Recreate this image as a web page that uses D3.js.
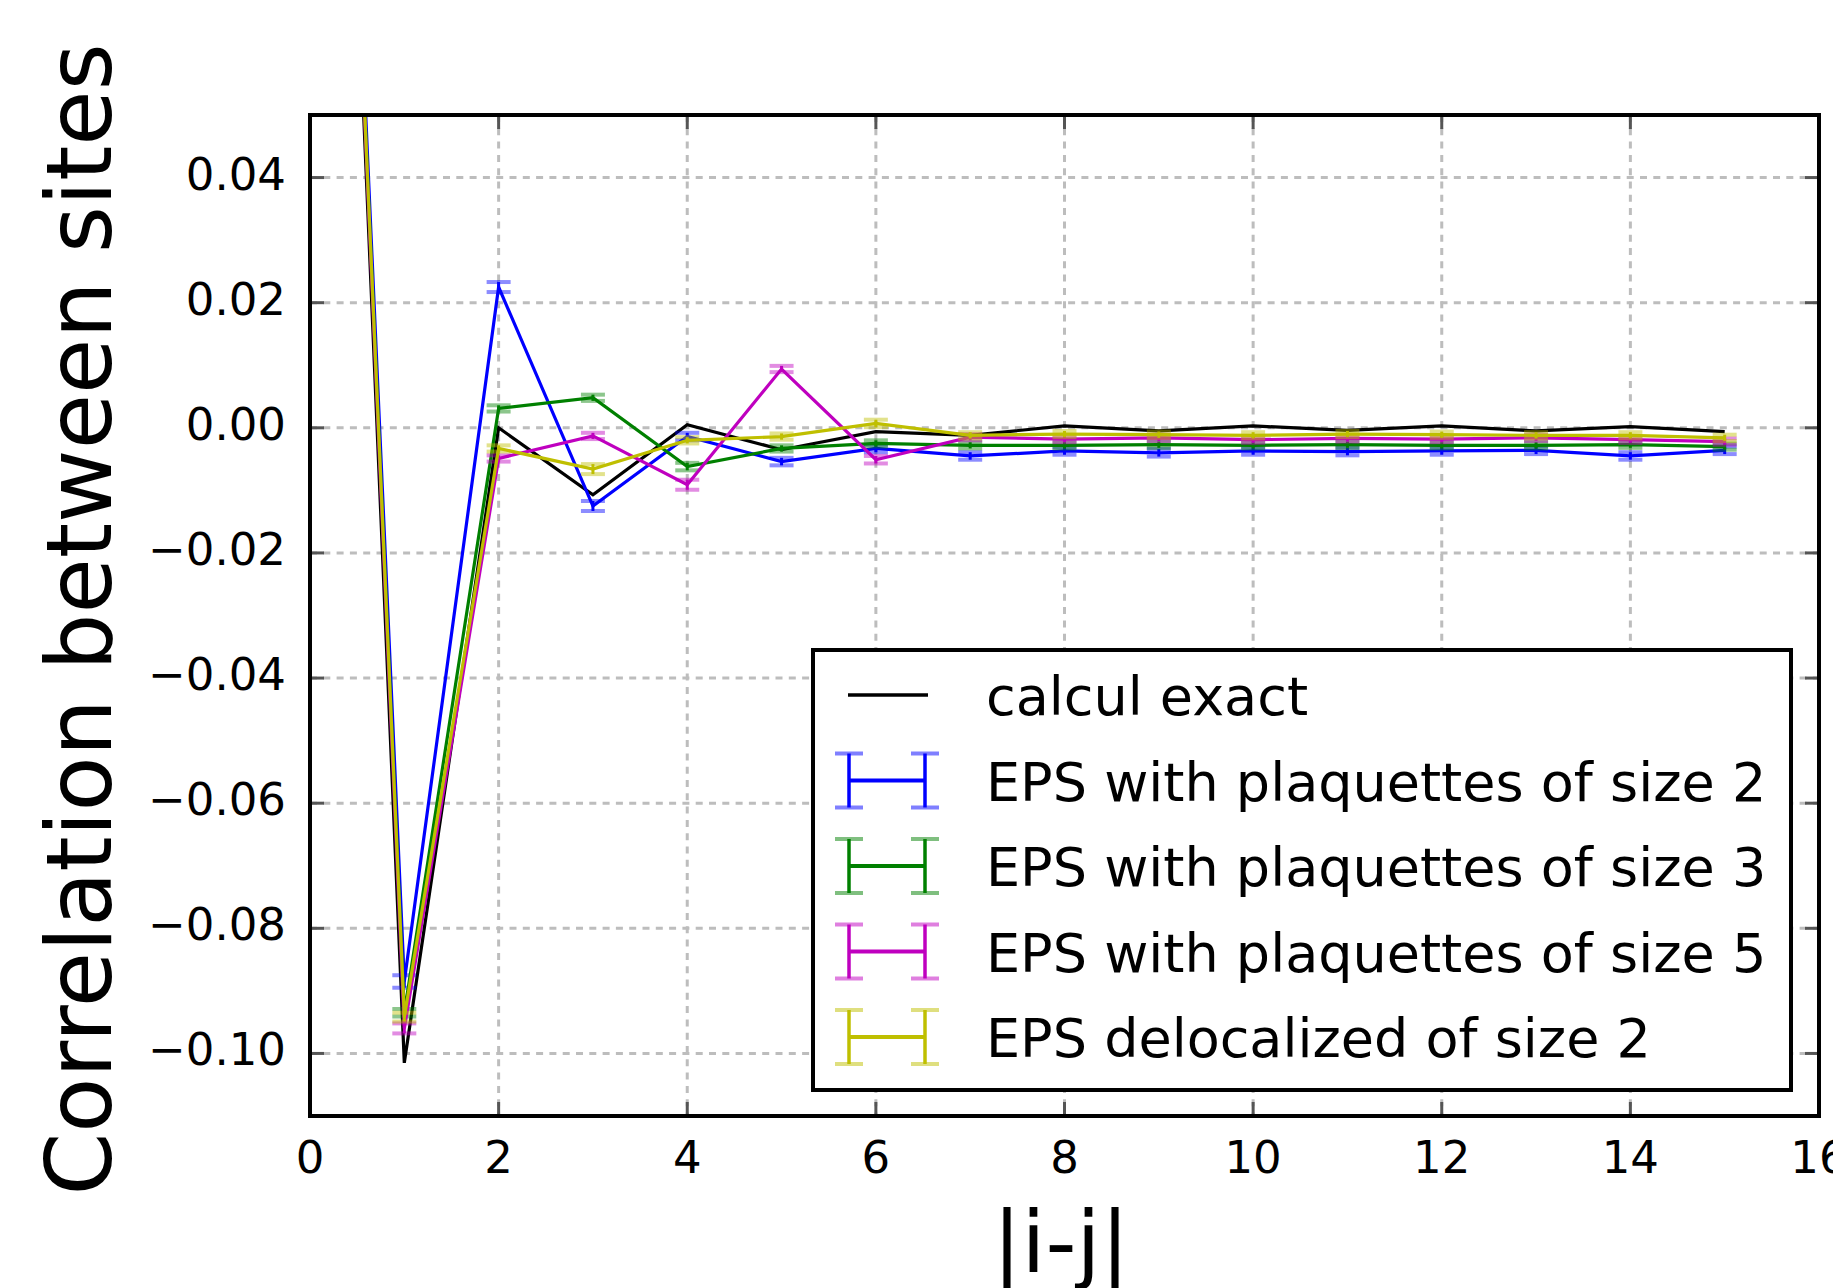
<!DOCTYPE html>
<html>
<head>
<meta charset="utf-8">
<script src="https://cdn.jsdelivr.net/npm/d3@7/dist/d3.min.js"></script>
<style>
  body { margin: 0; background: #fff; }
  text { font-family: "DejaVu Sans", sans-serif; fill: #000; }
</style>
</head>
<body>
<div id="chart"></div>
<script>
// Data
const distances = [0, 1, 2, 3, 4, 5, 6, 7, 8, 9, 10, 11, 12, 13, 14, 15];

const exactValues = [0.25, -0.1015, 0.0000, -0.0107, 0.0005, -0.0035, -0.0006, -0.0012, 0.0003, -0.0005, 0.0003, -0.0004, 0.0003, -0.0005, 0.0002, -0.0006];

const eps2Values = [0.25, -0.0885, 0.0225, -0.0125, -0.0014, -0.0054, -0.0033, -0.0045, -0.0037, -0.0040, -0.0037, -0.0038, -0.0037, -0.0036, -0.0045, -0.0036];
const eps2Errors = [0.0007, 0.0010, 0.0008, 0.0008, 0.0006, 0.0006, 0.0006, 0.0006, 0.0006, 0.0006, 0.0006, 0.0006, 0.0006, 0.0006, 0.0006, 0.0006];

const eps3Values = [0.25, -0.0935, 0.0031, 0.0048, -0.0062, -0.0033, -0.0025, -0.0028, -0.0028, -0.0027, -0.0028, -0.0027, -0.0028, -0.0028, -0.0027, -0.0030];
const eps3Errors = [0.0006, 0.0006, 0.0005, 0.0005, 0.0006, 0.0005, 0.0005, 0.0005, 0.0005, 0.0005, 0.0005, 0.0005, 0.0005, 0.0005, 0.0005, 0.0005];

const eps5Values = [0.25, -0.0960, -0.0049, -0.0013, -0.0091, 0.0094, -0.0051, -0.0015, -0.0018, -0.0016, -0.0019, -0.0017, -0.0018, -0.0016, -0.0019, -0.0022];
const eps5Errors = [0.0006, 0.0008, 0.0005, 0.0005, 0.0008, 0.0005, 0.0006, 0.0005, 0.0005, 0.0005, 0.0005, 0.0005, 0.0005, 0.0005, 0.0005, 0.0005];

const delocValues = [0.25, -0.0942, -0.0033, -0.0066, -0.0020, -0.0014, 0.0007, -0.0012, -0.0010, -0.0011, -0.0012, -0.0010, -0.0011, -0.0012, -0.0012, -0.0016];
const delocErrors = [0.0006, 0.0007, 0.0005, 0.0008, 0.0005, 0.0005, 0.0006, 0.0005, 0.0005, 0.0005, 0.0005, 0.0005, 0.0005, 0.0005, 0.0005, 0.0005];

const xTicks = [0, 2, 4, 6, 8, 10, 12, 14, 16];
const yTicks = [-0.10, -0.08, -0.06, -0.04, -0.02, 0.00, 0.02, 0.04];

const seriesNames = ["calcul exact", "EPS with plaquettes of size 2", "EPS with plaquettes of size 3",
                     "EPS with plaquettes of size 5", "EPS delocalized of size 2"];
const seriesColors = ["#000000", "#0000ff", "#008000", "#bf00bf", "#bfbf00"];

// Layout
const width = 1833, height = 1288;
const plotLeft = 310, plotRight = 1819, plotTop = 115, plotBottom = 1116;

const svg = d3.select("#chart").append("svg")
  .attr("width", width)
  .attr("height", height);

const x = d3.scaleLinear().domain([0, 16]).range([plotLeft, plotRight]);
const y = d3.scaleLinear().domain([-0.11, 0.05]).range([plotBottom, plotTop]);

svg.append("clipPath").attr("id", "plot-clip")
  .append("rect")
    .attr("x", plotLeft).attr("y", plotTop)
    .attr("width", plotRight - plotLeft).attr("height", plotBottom - plotTop);

// Grid
const grid = svg.append("g")
  .attr("stroke", "#bdbdbd").attr("stroke-width", 3)
  .attr("stroke-dasharray", "7,6.3");
grid.selectAll(".gx")
  .data(xTicks.filter(d => d > 0 && d < 16))
  .join("line")
    .attr("class", "gx")
    .attr("x1", d => x(d)).attr("x2", d => x(d))
    .attr("y1", plotTop).attr("y2", plotBottom);
grid.selectAll(".gy")
  .data(yTicks)
  .join("line")
    .attr("class", "gy")
    .attr("x1", plotLeft).attr("x2", plotRight)
    .attr("y1", d => y(d)).attr("y2", d => y(d));

// Series
const series = [
  { name: seriesNames[0], color: seriesColors[0], values: exactValues, errors: null },
  { name: seriesNames[1], color: seriesColors[1], values: eps2Values, errors: eps2Errors },
  { name: seriesNames[2], color: seriesColors[2], values: eps3Values, errors: eps3Errors },
  { name: seriesNames[3], color: seriesColors[3], values: eps5Values, errors: eps5Errors },
  { name: seriesNames[4], color: seriesColors[4], values: delocValues, errors: delocErrors }
];

const line = d3.line()
  .x(d => x(d[0]))
  .y(d => y(d[1]));

const plot = svg.append("g").attr("clip-path", "url(#plot-clip)");

series.forEach(s => {
  const pts = distances.map((d, i) => [d, s.values[i]]);
  plot.append("path")
    .datum(pts)
    .attr("fill", "none")
    .attr("stroke", s.color)
    .attr("stroke-width", 3.2)
    .attr("d", line);

  if (s.errors) {
    const eb = plot.append("g");
    distances.forEach((d, i) => {
      const lo = s.values[i] - s.errors[i], hi = s.values[i] + s.errors[i];
      eb.append("line")
        .attr("x1", x(d)).attr("x2", x(d))
        .attr("y1", y(lo)).attr("y2", y(hi))
        .attr("stroke", s.color).attr("stroke-width", 3);
      [lo, hi].forEach(v => {
        eb.append("line")
          .attr("x1", x(d) - 12).attr("x2", x(d) + 12)
          .attr("y1", y(v)).attr("y2", y(v))
          .attr("stroke", s.color).attr("stroke-opacity", 0.45)
          .attr("stroke-width", 4);
      });
    });
  }
});

// Ticks on all four sides, pointing inwards
const tickLen = 14;
const ticks = svg.append("g").attr("stroke", "#555").attr("stroke-width", 3);
xTicks.forEach(t => {
  ticks.append("line").attr("x1", x(t)).attr("x2", x(t)).attr("y1", plotBottom).attr("y2", plotBottom - tickLen);
  ticks.append("line").attr("x1", x(t)).attr("x2", x(t)).attr("y1", plotTop).attr("y2", plotTop + tickLen);
});
yTicks.forEach(t => {
  ticks.append("line").attr("x1", plotLeft).attr("x2", plotLeft + tickLen).attr("y1", y(t)).attr("y2", y(t));
  ticks.append("line").attr("x1", plotRight).attr("x2", plotRight - tickLen).attr("y1", y(t)).attr("y2", y(t));
});

// Frame
svg.append("rect")
  .attr("x", plotLeft).attr("y", plotTop)
  .attr("width", plotRight - plotLeft).attr("height", plotBottom - plotTop)
  .attr("fill", "none").attr("stroke", "#000").attr("stroke-width", 4);

// Tick labels
const fmtY = d3.format(".2f");
svg.append("g").selectAll("text")
  .data(yTicks)
  .join("text")
    .attr("x", 286)
    .attr("y", d => y(d) + 12)
    .attr("text-anchor", "end")
    .style("font-size", "45px")
    .text(d => fmtY(d));

svg.append("g").selectAll("text")
  .data(xTicks)
  .join("text")
    .attr("x", d => x(d))
    .attr("y", 1173)
    .attr("text-anchor", "middle")
    .style("font-size", "45px")
    .text(d => d);

// Axis titles
svg.append("text")
  .attr("transform", `translate(111, ${(plotTop + plotBottom) / 2 + 4}) rotate(-90)`)
  .attr("text-anchor", "middle")
  .style("font-size", "90px")
  .text("Correlation between sites");

svg.append("text")
  .attr("x", 1061)
  .attr("y", 1272)
  .attr("text-anchor", "middle")
  .style("font-size", "86px")
  .text("|i-j|");

// Legend
const legend = svg.append("g");
legend.append("rect")
  .attr("x", 813).attr("y", 650)
  .attr("width", 978).attr("height", 440)
  .attr("fill", "#fff").attr("stroke", "#000").attr("stroke-width", 4);

series.forEach((s, i) => {
  const cy = 695 + i * 85.5;
  const g = legend.append("g");
  if (!s.errors) {
    g.append("line")
      .attr("x1", 848).attr("x2", 928).attr("y1", cy).attr("y2", cy)
      .attr("stroke", s.color).attr("stroke-width", 3.5);
  } else {
    g.append("line")
      .attr("x1", 849).attr("x2", 925).attr("y1", cy).attr("y2", cy)
      .attr("stroke", s.color).attr("stroke-width", 4);
    [849, 925].forEach(bx => {
      g.append("line")
        .attr("x1", bx).attr("x2", bx).attr("y1", cy - 27).attr("y2", cy + 27)
        .attr("stroke", s.color).attr("stroke-width", 3.5);
      [cy - 27, cy + 27].forEach(cyy => {
        g.append("line")
          .attr("x1", bx - 14).attr("x2", bx + 14).attr("y1", cyy).attr("y2", cyy)
          .attr("stroke", s.color).attr("stroke-opacity", 0.5).attr("stroke-width", 4);
      });
    });
  }
  g.append("text")
    .attr("x", 986)
    .attr("y", cy + 20)
    .style("font-size", "54px")
    .text(s.name);
});
</script>
</body>
</html>
